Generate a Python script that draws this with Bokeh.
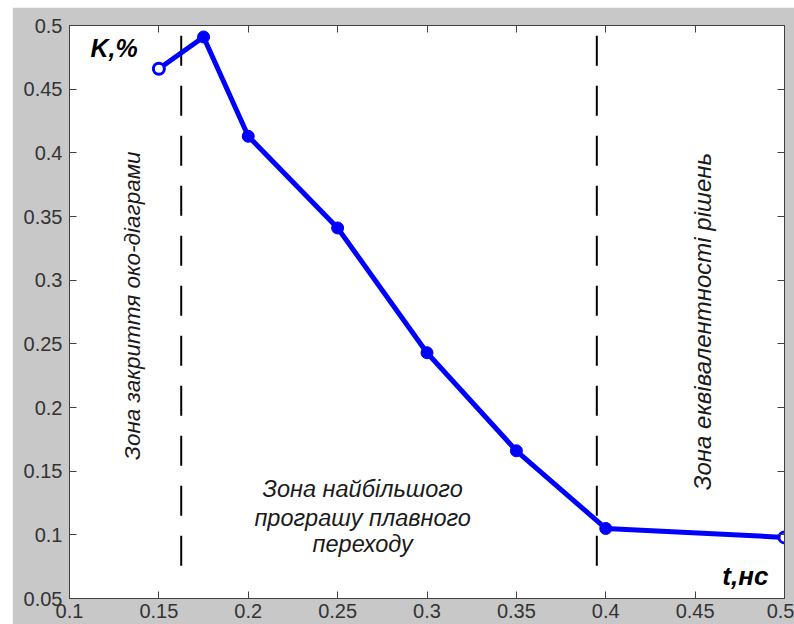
from bokeh.plotting import figure
from bokeh.models import Label, LinearAxis, FixedTicker, Spacer, Range1d
from bokeh.layouts import column, row
from bokeh.embed import file_html
from bokeh.resources import INLINE
import math

# ---- data ----
t_ns = [0.15, 0.175, 0.2, 0.25, 0.3, 0.35, 0.4, 0.5]
k_pct = [0.466, 0.491, 0.413, 0.341, 0.243, 0.166, 0.105, 0.098]

zone_bounds = [0.1625, 0.395]
zone_line_y = [0.492, 0.066]

x_ticks = [0.1, 0.15, 0.2, 0.25, 0.3, 0.35, 0.4, 0.45, 0.5]
x_tick_labels = ["0.1", "0.15", "0.2", "0.25", "0.3", "0.35", "0.4", "0.45", "0.5"]
y_ticks = [0.05, 0.1, 0.15, 0.2, 0.25, 0.3, 0.35, 0.4, 0.45, 0.5]
y_tick_labels = ["0.05", "0.1", "0.15", "0.2", "0.25", "0.3", "0.35", "0.4", "0.45", "0.5"]

y_label = "K,%"
x_label = "t,нс"
zone1_text = "Зона закриття око-діаграми"
zone2_lines = ["Зона найбільшого", "програшу плавного", "переходу"]
zone3_text = "Зона еквівалентності рішень"

FONT = "Liberation Sans"
AXIS_COL = "#404040"
GREY = "#c8c8c8"

p = figure(frame_width=715, frame_height=573,
           min_border_left=57, min_border_top=18, min_border_right=10, min_border_bottom=26,
           x_range=Range1d(0.1, 0.5), y_range=Range1d(0.05, 0.5),
           output_backend="svg", toolbar_location=None,
           x_axis_location=None, y_axis_location=None)
p.border_fill_color = GREY
p.background_fill_color = "white"
p.outline_line_color = AXIS_COL
p.outline_line_width = 1
p.xgrid.visible = False
p.ygrid.visible = False


def make_axis(ticks, labels, show_labels, standoff):
    ax = LinearAxis(ticker=FixedTicker(ticks=ticks))
    ax.major_label_overrides = {tk: (lb if show_labels else "") for tk, lb in zip(ticks, labels)}
    ax.major_tick_in = 7
    ax.major_tick_out = 0
    ax.minor_tick_line_color = None
    ax.axis_line_color = AXIS_COL
    ax.major_tick_line_color = AXIS_COL
    ax.major_label_text_font = FONT
    ax.major_label_text_font_size = "20px" if show_labels else "1px"
    ax.major_label_text_color = "#333333"
    ax.major_label_standoff = standoff
    return ax


p.add_layout(make_axis(x_ticks, x_tick_labels, True, 5), "below")
p.add_layout(make_axis(y_ticks, y_tick_labels, True, 7), "left")
p.add_layout(make_axis(x_ticks, x_tick_labels, False, 0), "above")
p.add_layout(make_axis(y_ticks, y_tick_labels, False, 0), "right")

# zone boundaries
for xb in zone_bounds:
    p.segment(x0=[xb], y0=[zone_line_y[0]], x1=[xb], y1=[zone_line_y[1]],
              line_color="black", line_width=2, line_dash="30 20")

# main curve
p.line(t_ns, k_pct, line_color="#0000ff", line_width=5)
p.scatter(t_ns[1:-1], k_pct[1:-1], marker="circle", size=12,
          fill_color="#0000ff", line_color="#0000ff")
p.scatter([t_ns[0], t_ns[-1]], [k_pct[0], k_pct[-1]], marker="circle", size=11,
          fill_color="white", line_color="#0000ff", line_width=3)

# labels
p.add_layout(Label(x=0.1117, y=0.482, text=y_label, text_font=FONT,
                   text_font_style="bold italic", text_font_size="25px",
                   text_align="left", text_baseline="middle", text_color="black"))
p.add_layout(Label(x=0.491, y=0.068, text=x_label, text_font=FONT,
                   text_font_style="bold italic", text_font_size="26px",
                   text_align="right", text_baseline="middle", text_color="black"))

p.add_layout(Label(x=0.1352, y=0.28, text=zone1_text, angle=math.pi / 2,
                   text_font=FONT, text_font_style="italic", text_font_size="22.5px",
                   text_align="center", text_baseline="middle", text_color="#1a1a1a"))
p.add_layout(Label(x=0.4544, y=0.2675, text=zone3_text, angle=math.pi / 2,
                   text_font=FONT, text_font_style="italic", text_font_size="24px",
                   text_align="center", text_baseline="middle", text_color="#1a1a1a"))

zone2_y = [0.1363, 0.1135, 0.0931]
for line_text, yy in zip(zone2_lines, zone2_y):
    p.add_layout(Label(x=0.264, y=yy, text=line_text, text_font=FONT,
                       text_font_style="italic", text_font_size="23.5px",
                       text_align="center", text_baseline="middle", text_color="#1a1a1a"))

layout = column(Spacer(height=7), row(Spacer(width=12), p))
open("out.html", "w").write(file_html(layout, INLINE))
